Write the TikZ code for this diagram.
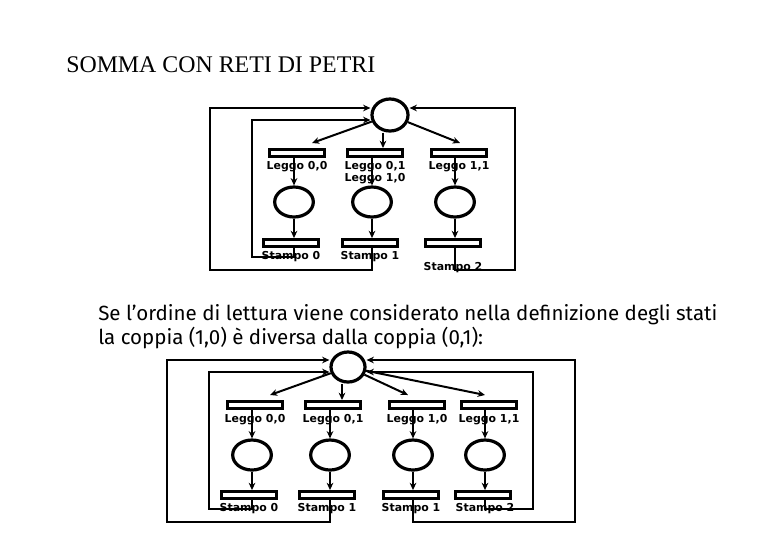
\documentclass[tikz,border=0pt]{standalone}
\usepackage{fontspec}
\setmainfont{Liberation Serif}
\newfontfamily\lblfont{DejaVu Sans}
\newfontfamily\parfont{Fira Sans}
\usetikzlibrary{shapes.geometric,arrows.meta}
\begin{document}
\begin{tikzpicture}[x=0.75pt,y=-0.75pt,
  conn/.style={line width=1.5pt},
  arr/.style={conn,-{Stealth[length=5.5pt,width=5pt]}},
  place/.style={ellipse,draw,line width=2.4pt,minimum width=29pt,minimum height=22.5pt,inner sep=0pt},
  trans/.style={rectangle,draw,line width=1.9pt,minimum width=41pt,minimum height=5.5pt,inner sep=0pt},
  lbl/.style={font=\lblfont\bfseries\fontsize{8.2}{9}\selectfont,inner sep=0pt},
]
\useasboundingbox (0,0) rectangle (780,540);

\node[anchor=west,font=\fontsize{17.9}{21}\selectfont,inner sep=0pt] (title) at (66,65) {SOMMA CON RETI DI PETRI};

\node[anchor=north west,align=left,font=\parfont\fontsize{15.4}{18.5}\selectfont,inner sep=0pt] (par) at (98,304)
  {Se l’ordine di lettura viene considerato nella definizione degli stati\\la coppia (1,0) è diversa dalla coppia (0,1):};

% ---------- top diagram ----------
\node[place,minimum width=27pt,minimum height=24pt] (A0) at (390,115) {};
\node[trans] (A1t) at (297,153) {};
\node[trans] (A2t) at (375,153) {};
\node[trans] (A3t) at (459,153) {};
\node[place] (A1p) at (294,202) {};
\node[place] (A2p) at (372,202) {};
\node[place] (A3p) at (455,202) {};
\node[trans] (A1b) at (291,243) {};
\node[trans] (A2b) at (370,243) {};
\node[trans] (A3b) at (453,243) {};

\coordinate (a1) at (312,143);
\coordinate (a2) at (383,148);
\coordinate (a3) at (460,143);
\draw[arr] (A0) -- (a1);
\draw[arr] (a2 |- A0.south) -- (a2);
\draw[arr] (A0) -- (a3);

\foreach \i in {1,2,3}{
  \draw[arr] (A\i t.south -| A\i p.center) -- (A\i p.north);
  \draw[arr] (A\i p.south) -- (A\i p.south |- A\i b.north);
}

\coordinate (c1) at (252,257); \coordinate (c1u) at (252,120);
\coordinate (c2) at (210,270); \coordinate (c2u) at (210,108);
\coordinate (c3) at (515,270); \coordinate (c3u) at (515,108);
\draw[arr] (A1b.south -| A1p.center) |- (c1) -- (c1u) -- (A0.west |- c1u);
\draw[arr] (A2b.south -| A2p.center) |- (c2) -- (c2u) -- (A0.west |- c2u);
\draw[arr] (A3b.south -| A3p.center) |- (c3) -- (c3u) -- (A0.east |- c3u);

\node[lbl] (A1tl) at (297,167) {Leggo 0,0};
\node[lbl] (A2tl) at (375,167) {Leggo 0,1};
\node[lbl] (A2tl2) at (375,179) {Leggo 1,0};
\node[lbl] (A3tl) at (459,167) {Leggo 1,1};
\node[lbl] (A1bl) at (291,257) {Stampo 0};
\node[lbl] (A2bl) at (370,257) {Stampo 1};
\node[lbl] (A3bl) at (453,268) {Stampo 2};

% ---------- bottom diagram ----------
\node[place,minimum width=25.5pt,minimum height=22.5pt] (B0) at (348,367) {};
\node[trans] (B1t) at (255,405) {};
\node[trans] (B2t) at (333,405) {};
\node[trans] (B3t) at (417,405) {};
\node[trans] (B4t) at (489,405) {};
\node[place] (B1p) at (252,455) {};
\node[place] (B2p) at (330,455) {};
\node[place] (B3p) at (413,455) {};
\node[place] (B4p) at (485,455) {};
\node[trans] (B1b) at (249,495) {};
\node[trans] (B2b) at (327,495) {};
\node[trans] (B3b) at (411,495) {};
\node[trans] (B4b) at (483,495) {};

\coordinate (b1) at (270,395);
\coordinate (b2) at (342,400);
\coordinate (b3) at (408,395);
\coordinate (b4) at (485,395);
\draw[arr] (B0) -- (b1);
\draw[arr] (b2 |- B0.south) -- (b2);
\draw[arr] (B0) -- (b3);
\draw[arr] (B0) -- (b4);

\foreach \i in {1,2,3,4}{
  \draw[arr] (B\i t.south -| B\i p.center) -- (B\i p.north);
  \draw[arr] (B\i p.south) -- (B\i p.south |- B\i b.north);
}

\coordinate (d1) at (209,509); \coordinate (d1u) at (209,372);
\coordinate (d2) at (167,522); \coordinate (d2u) at (167,360);
\coordinate (d3) at (575,522); \coordinate (d3u) at (575,360);
\coordinate (d4) at (533,509); \coordinate (d4u) at (533,372);
\draw[arr] (B1b.south -| B1p.center) |- (d1) -- (d1u) -- (B0.west |- d1u);
\draw[arr] (B2b.south -| B2p.center) |- (d2) -- (d2u) -- (B0.west |- d2u);
\draw[arr] (B3b.south -| B3p.center) |- (d3) -- (d3u) -- (B0.east |- d3u);
\draw[arr] (B4b.south -| B4p.center) |- (d4) -- (d4u) -- (B0.east |- d4u);

\node[lbl] (B1tl) at (255,420) {Leggo 0,0};
\node[lbl] (B2tl) at (333,420) {Leggo 0,1};
\node[lbl] (B3tl) at (417,420) {Leggo 1,0};
\node[lbl] (B4tl) at (489,420) {Leggo 1,1};
\node[lbl] (B1bl) at (249,509) {Stampo 0};
\node[lbl] (B2bl) at (327,509) {Stampo 1};
\node[lbl] (B3bl) at (411,509) {Stampo 1};
\node[lbl] (B4bl) at (485,509) {Stampo 2};
\end{tikzpicture}
\end{document}
